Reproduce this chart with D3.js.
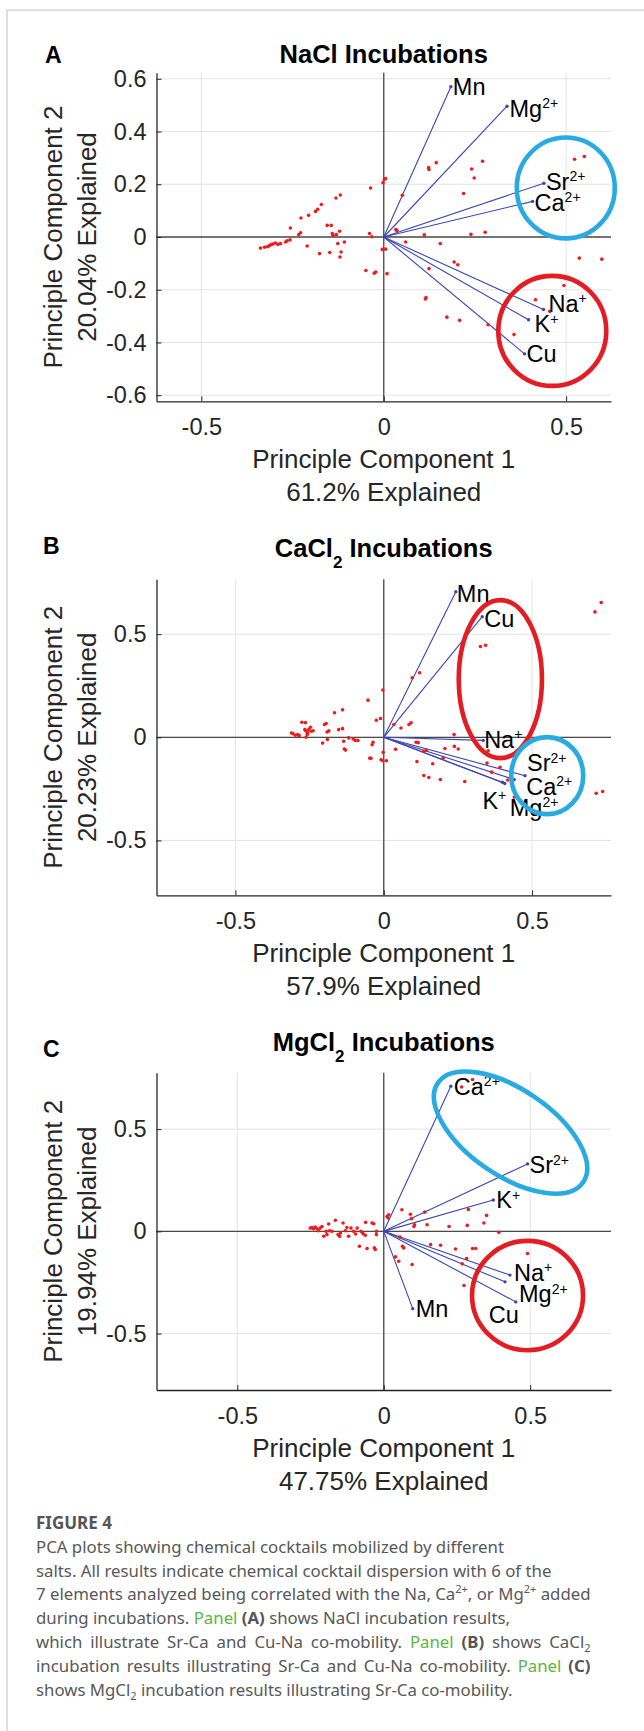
<!DOCTYPE html>
<html>
<head>
<meta charset="utf-8">
<script src="https://cdn.jsdelivr.net/npm/d3@7"></script>
<style>
    body { margin: 0; background: #fff; width: 644px; height: 1731px; position: relative; overflow: hidden; }
    #chart { position: absolute; left: 0; top: 0; }
    #caption { position: absolute; left: 36px; top: 1511px; font-family: "Noto Sans", "Open Sans", sans-serif;
        font-size: 16.8px; line-height: 23.8px; color: #585858; }
    #caption div { white-space: nowrap; }
    #caption span.line { display: inline-block; }
    #caption .fig { font-weight: bold; color: #555; font-size: 17px; }
    #caption .pn { color: #5cb646; }
    #caption b { color: #555; }
    #caption sup, #caption sub { font-size: 11px; line-height: 0; }
</style>
</head>
<body>
<div id="chart"></div>
<div id="caption">
    <div><span class="line fig">FIGURE 4</span></div>
    <div><span class="line">PCA plots showing chemical cocktails mobilized by different</span></div>
    <div><span class="line">salts. All results indicate chemical cocktail dispersion with 6 of the</span></div>
    <div><span class="line j">7 elements analyzed being correlated with the Na, Ca<sup>2+</sup>, or Mg<sup>2+</sup> added</span></div>
    <div><span class="line">during incubations. <span class="pn">Panel</span> <b>(A)</b> shows NaCl incubation results,</span></div>
    <div><span class="line j">which illustrate Sr-Ca and Cu-Na co-mobility. <span class="pn">Panel</span> <b>(B)</b> shows CaCl<sub>2</sub></span></div>
    <div><span class="line j">incubation results illustrating Sr-Ca and Cu-Na co-mobility. <span class="pn">Panel</span> <b>(C)</b></span></div>
    <div><span class="line">shows MgCl<sub>2</sub> incubation results illustrating Sr-Ca co-mobility.</span></div>
</div>
<script>
// scores (PC1, PC2)
const naclScores = [[-0.338,-0.042],[-0.327,-0.039],[-0.319,-0.037],[-0.314,-0.033],[-0.309,-0.029],[-0.304,-0.027],
    [-0.297,-0.023],[-0.290,-0.028],[-0.283,-0.025],[-0.269,-0.019],[-0.265,-0.014],[-0.257,-0.011],[-0.256,0.034],
    [-0.233,0.009],[-0.228,0.016],[-0.227,0.072],[-0.210,-0.034],[-0.206,0.082],[-0.187,0.097],[-0.181,0.105],
    [-0.171,0.123],[-0.176,-0.063],[-0.155,0.044],[-0.144,0.044],[-0.148,-0.059],[-0.141,0.013],[-0.139,0.006],
    [-0.130,0.009],[-0.126,-0.025],[-0.121,0.022],[-0.120,-0.076],[-0.117,-0.057],[-0.108,-0.019],[-0.131,0.148],
    [-0.119,0.159],[-0.049,-0.127],[-0.026,-0.137],[-0.022,-0.133],[-0.036,0.186],[-0.039,0.013],[-0.033,0.001],
    [-0.004,-0.047],[0.005,-0.046],[-0.002,0.206],[0.002,0.219],[0.005,0.222],[0.009,-0.139],[0.033,0.028],
    [0.036,0.025],[0.051,0.158],[0.060,-0.019],[0.111,0.008],[0.124,-0.120],[0.123,0.263],[0.124,0.256],
    [0.144,0.282],[0.155,-0.025],[0.114,-0.235],[0.116,-0.230],[0.173,-0.304],[0.193,-0.095],[0.203,-0.105],
    [0.208,-0.316],[0.219,0.165],[0.239,0.010],[0.241,0.258],[0.248,0.224],[0.271,0.287],[0.278,0.018],
    [0.286,-0.333],[0.523,0.295],[0.550,0.305],[0.536,-0.080],[0.598,-0.084],[0.494,-0.184],[0.416,-0.238],
    [0.455,-0.282],[0.357,-0.370]];

const cacl2Scores = [[-0.311,0.021],[-0.306,0.018],[-0.298,0.010],[-0.290,0.013],[-0.285,0.008],[-0.276,0.073],
    [-0.264,0.071],[-0.262,0.000],[-0.266,0.037],[-0.256,0.021],[-0.253,0.037],[-0.247,0.049],[-0.244,0.029],
    [-0.238,0.032],[-0.258,0.013],[-0.261,0.029],[-0.206,-0.028],[-0.200,0.062],[-0.194,0.067],[-0.191,0.026],
    [-0.185,0.031],[-0.190,-0.011],[-0.166,0.119],[-0.152,0.037],[-0.139,0.042],[-0.139,0.133],[-0.135,-0.019],
    [-0.133,-0.057],[-0.129,-0.062],[-0.118,-0.003],[-0.103,-0.008],[-0.096,-0.015],[-0.087,-0.016],[-0.053,0.180],
    [-0.047,-0.101],[-0.043,-0.102],[-0.039,-0.036],[-0.036,-0.024],[-0.025,0.083],[-0.011,0.091],[-0.003,0.229],
    [-0.002,-0.073],[-0.009,-0.109],[-0.003,-0.114],[0.009,-0.114],[0.034,0.062],[0.040,-0.058],[0.058,0.045],
    [0.085,0.062],[0.092,0.070],[0.096,0.289],[0.121,0.313],[0.109,-0.024],[0.116,-0.026],[0.112,-0.117],
    [0.135,-0.068],[0.143,-0.063],[0.135,-0.185],[0.152,-0.195],[0.165,-0.128],[0.191,-0.205],[0.200,-0.101],
    [0.206,-0.054],[0.237,0.013],[0.238,-0.044],[0.251,-0.057],[0.273,-0.214],[0.326,0.440],[0.343,0.446],
    [0.352,-0.065],[0.348,-0.125],[0.364,-0.169],[0.392,-0.145],[0.418,-0.207],[0.440,-0.290],[0.712,0.608],
    [0.733,0.653],[0.716,-0.271],[0.738,-0.263]];

const mgcl2Scores = [[-0.251,0.016],[-0.245,0.019],[-0.240,0.013],[-0.234,0.021],[-0.228,0.013],[-0.223,0.003],
    [-0.217,0.016],[-0.211,0.024],[-0.205,-0.024],[-0.197,0.000],[-0.194,-0.016],[-0.188,0.036],[-0.185,0.003],
    [-0.177,0.000],[-0.165,0.054],[-0.156,-0.016],[-0.151,-0.024],[-0.148,-0.008],[-0.139,0.041],[-0.131,0.003],
    [-0.126,0.019],[-0.120,-0.024],[-0.112,0.016],[-0.103,0.000],[-0.096,-0.013],[-0.091,0.016],[-0.083,-0.073],
    [-0.078,0.000],[-0.071,-0.011],[-0.063,-0.019],[-0.062,0.044],[-0.057,-0.084],[-0.040,0.041],[-0.034,0.037],
    [-0.032,-0.081],[-0.029,-0.089],[-0.025,-0.016],[-0.025,0.000],[0.011,0.073],[0.017,0.081],[0.015,0.065],
    [0.040,-0.125],[0.051,-0.146],[0.055,-0.028],[0.064,-0.073],[0.068,-0.081],[0.062,0.106],[0.091,0.084],
    [0.095,0.062],[0.097,-0.162],[0.103,0.024],[0.105,0.032],[0.140,0.094],[0.148,0.032],[0.160,-0.065],
    [0.194,-0.068],[0.223,0.024],[0.245,-0.086],[0.268,-0.159],[0.274,-0.265],[0.283,-0.133],[0.285,0.029],
    [0.289,0.107],[0.303,-0.084],[0.314,-0.084],[0.342,0.041],[0.351,0.078],[0.393,-0.005],[0.491,-0.108],
    [0.266,0.706],[0.303,0.743]];

// loadings (element vectors)
const naclLoadings = [
    {el: "Mn", ch: "", x: 0.184, y: 0.570}, {el: "Mg", ch: "2+", x: 0.338, y: 0.496},
    {el: "Sr", ch: "2+", x: 0.439, y: 0.204}, {el: "Ca", ch: "2+", x: 0.408, y: 0.135},
    {el: "Na", ch: "+", x: 0.438, y: -0.275}, {el: "K", ch: "+", x: 0.397, y: -0.314},
    {el: "Cu", ch: "", x: 0.386, y: -0.443}];
const cacl2Loadings = [
    {el: "Mn", ch: "", x: 0.243, y: 0.706}, {el: "Cu", ch: "", x: 0.332, y: 0.585},
    {el: "Na", ch: "+", x: 0.335, y: -0.015}, {el: "Sr", ch: "2+", x: 0.476, y: -0.186},
    {el: "Ca", ch: "2+", x: 0.440, y: -0.205}, {el: "K", ch: "+", x: 0.400, y: -0.218},
    {el: "Mg", ch: "2+", x: 0.408, y: -0.224}];
const mgcl2Loadings = [
    {el: "Ca", ch: "2+", x: 0.229, y: 0.710}, {el: "Sr", ch: "2+", x: 0.491, y: 0.330},
    {el: "K", ch: "+", x: 0.374, y: 0.153}, {el: "Mn", ch: "", x: 0.099, y: -0.378},
    {el: "Na", ch: "+", x: 0.431, y: -0.214}, {el: "Mg", ch: "2+", x: 0.414, y: -0.247},
    {el: "Cu", ch: "", x: 0.451, y: -0.345}];

const pc1Explained = ["61.2%", "57.9%", "47.75%"];
const pc2Explained = ["20.04%", "20.23%", "19.94%"];
const axisLimits = [0.623, 0.766, 0.776];
const xTickValues = [-0.5, 0, 0.5];
const naclYTicks = [-0.6, -0.4, -0.2, 0, 0.2, 0.4, 0.6];
const otherYTicks = [-0.5, 0, 0.5];

// layout
var left = 156.5, right = 611;
var midX = (left + right) / 2;
var font = '"Liberation Sans", Arial, Helvetica, sans-serif';
var vecColor = "#3a46b4", dotColor = "#f01b1b";
var blueRing = "#2aaae2", redRing = "#e31d23";

var panels = [
    {letter: "A", salt: "NaCl", scores: naclScores, loadings: naclLoadings, yTicks: naclYTicks,
        top: 72.7, bottom: 401.3, titleY: 62.7, letterY: 63.3, letterX: 45,
        nudge: {Mn: [2, 0], Mg: [2.5, 2], Sr: [2, -2], Ca: [2, 1], Na: [5, -6], K: [6, 4], Cu: [2, 0]},
        rings: [{cx: 0.499, cy: 0.186, rx: 49, ry: 50.5, rot: 0, c: blueRing},
                {cx: 0.462, cy: -0.356, rx: 54, ry: 55, rot: 0, c: redRing}]},
    {letter: "B", salt: "CaCl", scores: cacl2Scores, loadings: cacl2Loadings, yTicks: otherYTicks,
        top: 579.3, bottom: 895.3, titleY: 556.7, letterY: 554, letterX: 43,
        nudge: {Mn: [1, 2], Cu: [2, 2], Na: [1, -1], Sr: [2, -13], Ca: [12, 7], K: [-20, 18], Mg: [5, 24]},
        rings: [{cx: 0.393, cy: 0.282, rx: 41.6, ry: 79, rot: 0, c: redRing},
                {cx: 0.551, cy: -0.186, rx: 36, ry: 38.5, rot: 0, c: blueRing}]},
    {letter: "C", salt: "MgCl", scores: mgcl2Scores, loadings: mgcl2Loadings, yTicks: otherYTicks,
        top: 1072.7, bottom: 1390, titleY: 1050.7, letterY: 1056.7, letterX: 43,
        nudge: {Ca: [3, 0], Sr: [2, 1], K: [3, 0], Mn: [3, 0], Na: [4, -3], Mg: [14, 12], Cu: [-27, 13]},
        rings: [{cx: 0.433, cy: 0.483, rx: 88, ry: 43, rot: 34.4, c: blueRing},
                {cx: 0.491, cy: -0.314, rx: 55.5, ry: 54.7, rot: 0, c: redRing}]}
];

const svg = d3.select("#chart")
    .append("svg")
    .attr("width", 644)
    .attr("height", 1731)
    .style("font-family", font);

// page frame
svg.append("path")
    .attr("d", "M7,1731V10H644")
    .attr("fill", "none")
    .attr("stroke", "#d6d6d6")
    .attr("stroke-width", 1.6);

panels.forEach(function (p, i) {
    var lim = axisLimits[i];
    var x = d3.scaleLinear().domain([-lim, lim]).range([left, right]);
    var y = d3.scaleLinear().domain([-lim, lim]).range([p.bottom, p.top]);
    var g = svg.append("g");

    // grid
    g.selectAll(".gx").data(xTickValues).enter().append("line")
        .attr("x1", d => x(d)).attr("x2", d => x(d))
        .attr("y1", p.top).attr("y2", p.bottom)
        .attr("stroke", "#e3e3e3");
    g.selectAll(".gy").data(p.yTicks).enter().append("line")
        .attr("y1", d => y(d)).attr("y2", d => y(d))
        .attr("x1", left).attr("x2", right)
        .attr("stroke", "#e3e3e3");

    // zero lines
    g.append("line").attr("x1", x(0)).attr("x2", x(0)).attr("y1", p.top).attr("y2", p.bottom)
        .attr("stroke", "#4a4a4a").attr("stroke-width", 1.3);
    g.append("line").attr("x1", left).attr("x2", right).attr("y1", y(0)).attr("y2", y(0))
        .attr("stroke", "#4a4a4a").attr("stroke-width", 1.3);

    // vectors
    g.selectAll(".vec").data(p.loadings).enter().append("line")
        .attr("x1", x(0)).attr("y1", y(0))
        .attr("x2", d => x(d.x)).attr("y2", d => y(d.y))
        .attr("stroke", vecColor).attr("stroke-width", 1.1);
    g.selectAll(".tip").data(p.loadings).enter().append("circle")
        .attr("cx", d => x(d.x)).attr("cy", d => y(d.y)).attr("r", 1.7)
        .attr("fill", vecColor);

    // scores
    g.selectAll(".pt").data(p.scores).enter().append("circle")
        .attr("cx", d => x(d[0])).attr("cy", d => y(d[1])).attr("r", 1.8)
        .attr("fill", dotColor);

    // vector labels
    var lab = g.selectAll(".lab").data(p.loadings).enter().append("text")
        .attr("x", d => x(d.x) + p.nudge[d.el][0])
        .attr("y", d => y(d.y) + p.nudge[d.el][1] + 8.4)
        .style("font-size", "23.5px")
        .attr("fill", "#000");
    lab.append("tspan").text(d => d.el);
    lab.append("tspan").text(d => d.ch)
        .attr("dy", -8.5).style("font-size", "14px");

    // axes
    var yAxis = d3.axisLeft(y).tickValues(p.yTicks).tickSizeInner(-5).tickSizeOuter(0)
        .tickPadding(10).tickFormat(d => String(d));
    var xAxis = d3.axisBottom(x).tickValues(xTickValues).tickSizeInner(-5).tickSizeOuter(0)
        .tickPadding(17).tickFormat(d => String(d));
    var ya = g.append("g").attr("transform", "translate(" + left + ",0)").call(yAxis);
    var xa = g.append("g").attr("transform", "translate(0," + p.bottom + ")").call(xAxis);
    [ya, xa].forEach(function (a) {
        a.attr("font-family", font).attr("font-size", 23.5);
        a.select(".domain").attr("stroke", "#262626").attr("stroke-width", 1.3);
        a.selectAll(".tick line").attr("stroke", "#262626");
        a.selectAll(".tick text").attr("fill", "#262626");
    });

    // axis labels
    g.append("text").attr("x", midX).attr("y", p.bottom + 67)
        .attr("text-anchor", "middle").style("font-size", "26px").attr("fill", "#262626")
        .text("Principle Component 1");
    g.append("text").attr("x", midX).attr("y", p.bottom + 99.5)
        .attr("text-anchor", "middle").style("font-size", "26px").attr("fill", "#262626")
        .text(pc1Explained[i] + " Explained");
    var cy = (p.top + p.bottom) / 2;
    g.append("text").attr("transform", "translate(62," + cy + ") rotate(-90)")
        .attr("text-anchor", "middle").style("font-size", "26px").attr("fill", "#262626")
        .text("Principle Component 2");
    g.append("text").attr("transform", "translate(96," + cy + ") rotate(-90)")
        .attr("text-anchor", "middle").style("font-size", "26px").attr("fill", "#262626")
        .text(pc2Explained[i] + " Explained");

    // title
    var t = g.append("text").attr("x", midX).attr("y", p.titleY)
        .attr("text-anchor", "middle").style("font-size", "25.5px").style("font-weight", "bold");
    t.append("tspan").text(p.salt);
    if (i > 0) {
        t.append("tspan").text("2").attr("dy", 11).style("font-size", "17px");
        t.append("tspan").text(" Incubations").attr("dy", -11);
    } else {
        t.append("tspan").text(" Incubations");
    }

    // panel letter
    g.append("text").attr("x", p.letterX).attr("y", p.letterY)
        .style("font-size", "23px").style("font-weight", "bold").text(p.letter);

    // highlight rings
    g.selectAll(".ring").data(p.rings).enter().append("ellipse")
        .attr("cx", d => x(d.cx)).attr("cy", d => y(d.cy))
        .attr("rx", d => d.rx).attr("ry", d => d.ry)
        .attr("transform", d => "rotate(" + d.rot + "," + x(d.cx) + "," + y(d.cy) + ")")
        .attr("fill", "none").attr("stroke", d => d.c).attr("stroke-width", 4.6);
});

// caption: the full lines of the justified paragraph end at the same place
var full = d3.selectAll("#caption span.j");
var widest = d3.max(full.nodes(), n => n.getBoundingClientRect().width);
full.each(function () {
    var w = this.getBoundingClientRect().width;
    var n = this.textContent.split(" ").length - 1;
    if (n > 0) d3.select(this).style("word-spacing", ((widest - w) / n) + "px");
});
</script>
</body>
</html>
